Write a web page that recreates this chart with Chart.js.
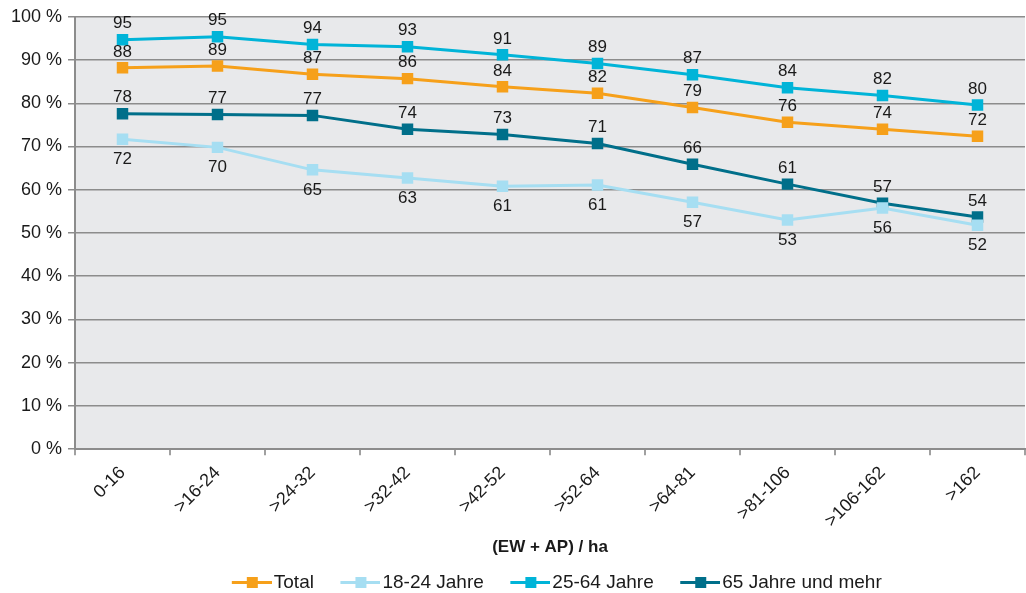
<!DOCTYPE html>
<html>
<head>
<meta charset="utf-8">
<script src="https://cdn.jsdelivr.net/npm/chart.js@4"></script>
<style>
  body { margin: 0; background: #fff; }
  #wrap { width: 1026px; height: 593px; }
</style>
</head>
<body>
<div id="wrap"><canvas id="chart" width="1026" height="593"></canvas></div>
<script>
const categories = ['0-16', '>16-24', '>24-32', '>32-42', '>42-52', '>52-64', '>64-81', '>81-106', '>106-162', '>162'];
const total = [88.2, 88.6, 86.7, 85.7, 83.8, 82.3, 79.0, 75.6, 74.0, 72.4];
const age18to24 = [71.7, 69.8, 64.6, 62.7, 60.8, 61.1, 57.1, 53.0, 55.8, 51.8];
const age25to64 = [94.7, 95.4, 93.6, 93.1, 91.2, 89.2, 86.6, 83.6, 81.8, 79.6];
const age65plus = [77.6, 77.4, 77.2, 74.0, 72.8, 70.7, 65.9, 61.3, 56.9, 53.7];
const yTicks = [0, 10, 20, 30, 40, 50, 60, 70, 80, 90, 100];

const FONT = 'Liberation Sans, Arial, sans-serif';

// legend symbol: line with a square, drawn at the right side of a wider canvas
const legendIcon = (color) => {
    const c = document.createElement('canvas');
    c.width = 64; c.height = 11;
    const g = c.getContext('2d');
    g.strokeStyle = color; g.lineWidth = 3;
    g.beginPath(); g.moveTo(24, 5.5); g.lineTo(64, 5.5); g.stroke();
    g.fillStyle = color; g.fillRect(39, 0, 11, 11);
    return c;
};

const plotBackground = {
    id: 'plotBackground',
    beforeDraw(chart) {
        const { ctx, chartArea: a } = chart;
        ctx.save();
        ctx.fillStyle = '#e8e9eb';
        ctx.fillRect(a.left, a.top, a.right - a.left, a.bottom - a.top);
        ctx.restore();
    }
};

// the legend sits a bit right of centre in the original
const legendShift = {
    id: 'legendShift',
    afterLayout(chart) {
        chart.legend.left += 36;
        chart.legend.right += 36;
    }
};

const valueLabels = {
    id: 'valueLabels',
    afterDatasetsDraw(chart) {
        const ctx = chart.ctx;
        ctx.save();
        ctx.font = '17px ' + FONT;
        ctx.fillStyle = '#1a1a1a';
        ctx.textAlign = 'center';
        ctx.textBaseline = 'middle';
        chart.data.datasets.forEach((ds, i) => {
            const meta = chart.getDatasetMeta(i);
            meta.data.forEach((pt, j) => {
                const dy = ds.labelBelow ? 20 : -16;
                ctx.fillText(Math.round(ds.data[j]), pt.x, pt.y + dy);
            });
        });
        ctx.restore();
    }
};

const mkSet = (label, data, color, extra) => Object.assign({
    label: label,
    data: data,
    borderColor: color,
    backgroundColor: color,
    borderWidth: 3,
    pointStyle: 'rect',
    pointRadius: 6,
    pointHoverRadius: 6,
    tension: 0,
    fill: false,
}, extra || {});

new Chart(document.getElementById('chart'), {
    type: 'line',
    data: {
        labels: categories,
        datasets: [
            mkSet('Total', total, '#f6a01a'),
            mkSet('18-24 Jahre', age18to24, '#a6def2', { labelBelow: true }),
            mkSet('25-64 Jahre', age25to64, '#00b4d8'),
            mkSet('65 Jahre und mehr', age65plus, '#006f8a'),
        ]
    },
    options: {
        responsive: false,
        animation: false,
        layout: { autoPadding: false, padding: { top: 15, right: 1, left: 0, bottom: -9 } },
        plugins: {
            legend: {
                position: 'bottom',
                labels: {
                    usePointStyle: true,
                    pointStyleWidth: 49,
                    boxHeight: 11,
                    font: { family: FONT, size: 19 },
                    color: '#1a1a1a',
                    padding: 10,
                    generateLabels: (chart) => chart.data.datasets.map((ds, i) => ({
                        text: ds.label,
                        pointStyle: legendIcon(ds.borderColor),
                        fillStyle: ds.borderColor,
                        strokeStyle: ds.borderColor,
                        lineWidth: 0,
                        hidden: false,
                        datasetIndex: i,
                        fontColor: '#1a1a1a'
                    }))
                }
            },
            tooltip: { enabled: false }
        },
        scales: {
            x: {
                offset: true,
                grid: { display: true, drawOnChartArea: false, offset: true, tickLength: 6, color: '#a0a0a0', lineWidth: 2 },
                border: { color: '#8c8c8c', width: 2 },
                ticks: {
                    maxRotation: 45, minRotation: 45,
                    font: { family: FONT, size: 18 },
                    color: '#1a1a1a',
                    padding: 7
                },
                title: {
                    display: true,
                    text: '(EW + AP) / ha',
                    font: { family: FONT, size: 17, weight: 'bold' },
                    color: '#1a1a1a',
                    padding: { top: -1, bottom: 5 }
                }
            },
            y: {
                min: 0, max: 100,
                afterFit: (s) => { s.width = 75; },
                afterBuildTicks: (s) => { s.ticks = yTicks.map(v => ({ value: v })); },
                grid: { color: '#8c8c8c', lineWidth: 1.5, tickLength: 7 },
                border: { color: '#8c8c8c', width: 2 },
                ticks: {
                    font: { family: FONT, size: 18 },
                    color: '#1a1a1a',
                    padding: 6,
                    callback: (v) => v + ' %'
                }
            }
        }
    },
    plugins: [plotBackground, legendShift, valueLabels]
});
</script>
</body>
</html>
